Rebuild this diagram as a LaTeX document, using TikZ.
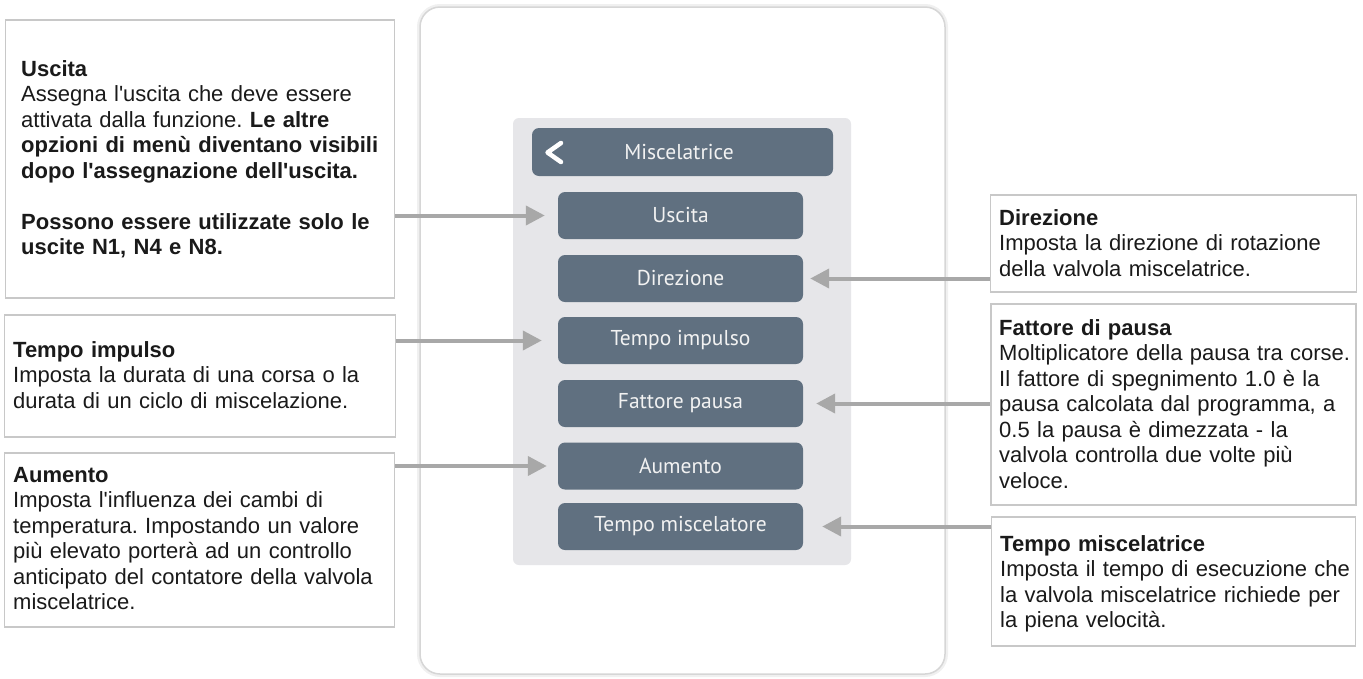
\documentclass[tikz,border=0pt]{standalone}
\usepackage{fontspec}
\setmainfont{Liberation Sans}
\newfontfamily\uifont{PT Sans}
\usetikzlibrary{arrows.meta,calc}
\definecolor{slate}{HTML}{607080}
\definecolor{panelgray}{HTML}{E6E6E9}
\definecolor{arrowgray}{HTML}{A8A8A8}
\definecolor{boxline}{HTML}{C8C8C8}
\definecolor{txt}{HTML}{1A1A1A}
\definecolor{uitxt}{HTML}{F2F2F2}
\newcommand{\apo}{\textquotesingle}
\frenchspacing
\begin{document}
\begin{tikzpicture}[x=1pt,y=-1pt,
  descbox/.style={draw=boxline,line width=1.5pt,fill=white,inner sep=0pt},
  desctext/.style={anchor=base west,inner sep=0pt,text width=372pt,align=left,
    font=\frenchspacing\fontsize{22}{25.5}\selectfont,text=txt},
  menubtn/.style={fill=slate,rounded corners=7pt,minimum width=245pt,minimum height=47pt,
    inner sep=0pt,text=uitxt,font=\uifont\fontsize{21.5}{24}\selectfont},
  arr/.style={draw=arrowgray,line width=4pt,-{Triangle[length=19pt,width=19pt]}}
]
\useasboundingbox (0,0) rectangle (1363,678);

% device frame and menu panel
\node[draw=black!16,line width=1.5pt,rounded corners=20pt,fill=white,
  preaction={draw=black!6,line width=6pt},
  minimum width=525pt,minimum height=667pt,inner sep=0pt] (frame) at (682.5,340.5) {};
\node[fill=panelgray,rounded corners=6pt,minimum width=338pt,minimum height=447pt,inner sep=0pt] (panel) at (682,341.5) {};
\node[fill=slate,rounded corners=7pt,minimum width=301pt,minimum height=48pt,inner sep=0pt] (head) at (682.5,152) {};
\node[text=uitxt,font=\uifont\fontsize{21.5}{24}\selectfont] (headtxt) at (679,152) {Miscelatrice};
\coordinate (chA) at (561,143);
\coordinate (chB) at (547.5,152.5);
\coordinate (chC) at (561,162);
\draw[white,line width=4.5pt,line cap=round,line join=round] (chA) -- (chB) -- (chC);

\node[menubtn] (bu) at (680.5,215.5) {Uscita};
\node[menubtn] (bd) at (680.5,278.5) {Direzione};
\node[menubtn] (bt) at (680.5,340.5) {Tempo impulso};
\node[menubtn] (bf) at (680.5,403.5) {Fattore pausa};
\node[menubtn] (ba) at (680.5,466) {Aumento};
\node[menubtn] (bm) at (680.5,526.5) {Tempo miscelatore};

% description boxes, left
\node[descbox,minimum width=389pt,minimum height=278pt] (lb1) at (200,159) {};
\node[desctext] (lt1) at (21,76) {\textbf{Uscita}\\
Assegna l\apo uscita che deve essere\\
attivata dalla funzione. \textbf{Le altre}\\
\textbf{opzioni di menù diventano visibili}\\
\textbf{dopo l\apo assegnazione dell\apo uscita.}\\[25.5pt]
\textbf{Possono essere utilizzate solo le}\\
\textbf{uscite N1, N4 e N8.}};

\node[descbox,minimum width=391pt,minimum height=122pt] (lb2) at (200,376) {};
\node[desctext] (lt2) at (13,357) {\textbf{Tempo impulso}\\
Imposta la durata di una corsa o la\\
durata di un ciclo di miscelazione.};

\node[descbox,minimum width=390pt,minimum height=174pt] (lb3) at (199.5,540) {};
\node[desctext] (lt3) at (13,482) {\textbf{Aumento}\\
Imposta l\apo influenza dei cambi di\\
temperatura. Impostando un valore\\
più elevato porterà ad un controllo\\
anticipato del contatore della valvola\\
miscelatrice.};

% description boxes, right
\node[descbox,minimum width=366pt,minimum height=97pt] (rb1) at (1173.5,243.5) {};
\node[desctext] (rt1) at (999,225) {\textbf{Direzione}\\
Imposta la direzione di rotazione\\
della valvola miscelatrice.};

\node[descbox,minimum width=365pt,minimum height=201pt] (rb2) at (1173.5,404.5) {};
\node[desctext] (rt2) at (999,335) {\textbf{Fattore di pausa}\\
Moltiplicatore della pausa tra corse.\\
Il fattore di spegnimento 1.0 è la\\
pausa calcolata dal programma, a\\
0.5 la pausa è dimezzata - la\\
valvola controlla due volte più\\
veloce.};

\node[descbox,minimum width=364pt,minimum height=129pt] (rb3) at (1173.5,581.5) {};
\node[desctext] (rt3) at (1000,551) {\textbf{Tempo miscelatrice}\\
Imposta il tempo di esecuzione che\\
la valvola miscelatrice richiede per\\
la piena velocità.};

% connectors
\draw[arr] (lb1.east |- bu.west) -- ([xshift=-13pt]bu.west);
\draw[arr] (lb2.east |- bt.west) -- ([xshift=-16pt]bt.west);
\draw[arr] (lb3.east |- ba.west) -- ([xshift=-11pt]ba.west);
\draw[arr] (rb1.west |- bd.east) -- ([xshift=7pt]bd.east);
\draw[arr] (rb2.west |- bf.east) -- ([xshift=13pt]bf.east);
\draw[arr] (rb3.west |- bm.east) -- ([xshift=19pt]bm.east);
\end{tikzpicture}
\end{document}
